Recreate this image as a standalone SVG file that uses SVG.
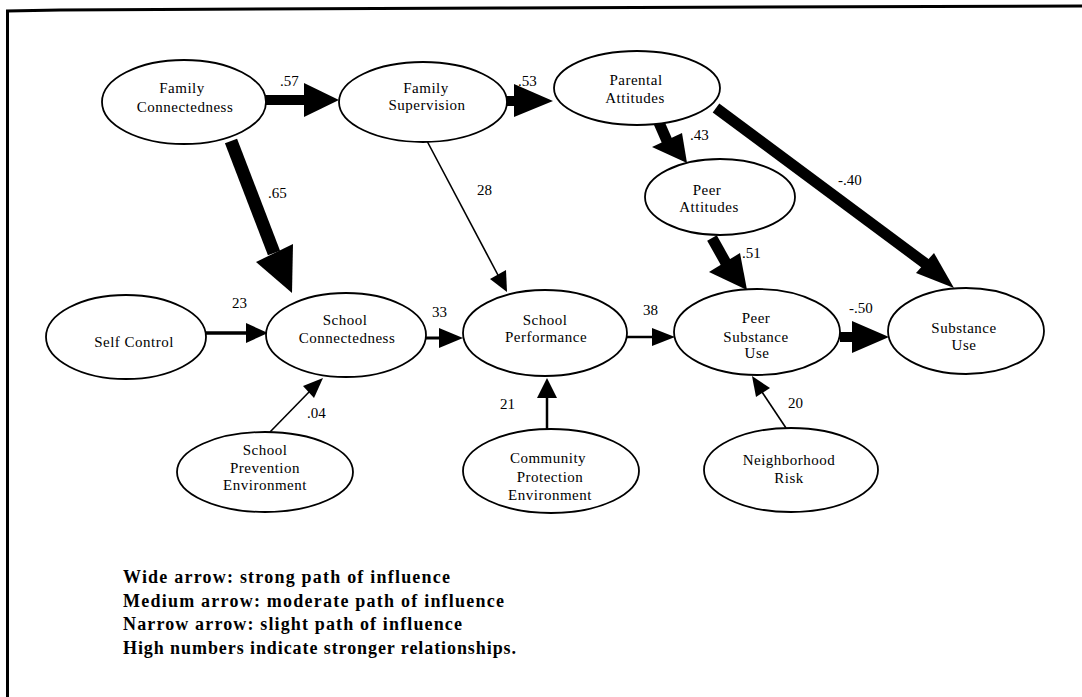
<svg xmlns="http://www.w3.org/2000/svg" width="1082" height="697" viewBox="0 0 1082 697">
<style>
.node ellipse{fill:#fff;stroke:#000;stroke-width:1.8}
.node text{font-family:"Liberation Serif","Times New Roman",serif;font-size:15px;letter-spacing:0.5px;text-anchor:middle;fill:#000}
.lbl{font-family:"Liberation Serif","Times New Roman",serif;font-size:15px;fill:#000}
.shaft{stroke:#000;fill:none}
.head{fill:#000;stroke:none}
.legend{font-family:"Liberation Serif","Times New Roman",serif;font-size:18px;font-weight:bold;fill:#000}
</style>
<rect width="1082" height="697" fill="#fff"/>
<polyline points="7.5,697 7.5,11 60,10 500,8 1082,6" fill="none" stroke="#000" stroke-width="3"/>

<g id="connectors">
  <!-- FC -> FS .57 -->
  <line class="shaft" x1="266" y1="100" x2="306" y2="100" stroke-width="10"/>
  <polygon class="head" points="304,83 339,100 304,117"/>
  <!-- FS -> PA .53 -->
  <line class="shaft" x1="506" y1="101" x2="516" y2="101" stroke-width="10"/>
  <polygon class="head" points="514,84 553,101 514,117"/>
  <!-- FC -> SC .65 -->
  <line class="shaft" x1="231" y1="141" x2="274" y2="253" stroke-width="13"/>
  <polygon class="head" points="256,262 293,244 292,293"/>
  <!-- FS -> SP 28 -->
  <line class="shaft" x1="427" y1="141" x2="499" y2="277" stroke-width="1.6"/>
  <polygon class="head" points="490,279 506,270 507,292"/>
  <!-- PA -> PeerA .43 -->
  <line class="shaft" x1="657" y1="118" x2="667" y2="141" stroke-width="11"/>
  <polygon class="head" points="652,147 682,133 687,163"/>
  <!-- PA -> SU -.40 -->
  <line class="shaft" x1="716" y1="108" x2="926" y2="264" stroke-width="11"/>
  <polygon class="head" points="916,273 934,253 954,288"/>
  <!-- PeerA -> PSU .51 -->
  <line class="shaft" x1="712" y1="238" x2="726" y2="263" stroke-width="11"/>
  <polygon class="head" points="709,272 740,253 747,290"/>
  <!-- SelfControl -> SC 23 -->
  <line class="shaft" x1="205" y1="333" x2="248" y2="333" stroke-width="3.5"/>
  <polygon class="head" points="246,323 268,333 246,343"/>
  <!-- SC -> SP 33 -->
  <line class="shaft" x1="426" y1="338" x2="441" y2="338" stroke-width="3"/>
  <polygon class="head" points="439,328 463,338 439,348"/>
  <!-- SP -> PSU 38 -->
  <line class="shaft" x1="626" y1="337" x2="654" y2="337" stroke-width="2.5"/>
  <polygon class="head" points="652,328 675,337 652,346"/>
  <!-- PSU -> SU -.50 -->
  <line class="shaft" x1="840" y1="337" x2="854" y2="337" stroke-width="10"/>
  <polygon class="head" points="852,321 889,337 852,353"/>
  <!-- SPE -> SC .04 -->
  <line class="shaft" x1="270" y1="432" x2="310" y2="391" stroke-width="1.6"/>
  <polygon class="head" points="303,386 323,378 314,398"/>
  <!-- CPE -> SP 21 -->
  <line class="shaft" x1="547" y1="431" x2="547" y2="396" stroke-width="2.5"/>
  <polygon class="head" points="537,398 547,378 557,398"/>
  <!-- NR -> PSU 20 -->
  <line class="shaft" x1="786" y1="428" x2="762" y2="392" stroke-width="1.6"/>
  <polygon class="head" points="770,388 752,376 756,397"/>
</g>

<g id="edge-labels">
  <text class="lbl" x="280" y="86">.57</text>
  <text class="lbl" x="518" y="86">.53</text>
  <text class="lbl" x="268" y="198">.65</text>
  <text class="lbl" x="477" y="195">28</text>
  <text class="lbl" x="690" y="140">.43</text>
  <text class="lbl" x="838" y="185">-.40</text>
  <text class="lbl" x="742" y="258">.51</text>
  <text class="lbl" x="232" y="308">23</text>
  <text class="lbl" x="432" y="317">33</text>
  <text class="lbl" x="643" y="315">38</text>
  <text class="lbl" x="849" y="313">-.50</text>
  <text class="lbl" x="307" y="418">.04</text>
  <text class="lbl" x="500" y="409">21</text>
  <text class="lbl" x="788" y="408">20</text>
</g>

<g id="family-connectedness" class="node">
  <ellipse cx="184" cy="102" rx="82" ry="42"/>
  <text x="182" y="93">Family</text>
  <text x="185" y="112">Connectedness</text>
</g>
<g id="family-supervision" class="node">
  <ellipse cx="423" cy="102" rx="84" ry="40"/>
  <text x="426" y="93">Family</text>
  <text x="427" y="110">Supervision</text>
</g>
<g id="parental-attitudes" class="node">
  <ellipse cx="637" cy="88" rx="83" ry="37"/>
  <text x="636" y="85">Parental</text>
  <text x="635" y="103">Attitudes</text>
</g>
<g id="peer-attitudes" class="node">
  <ellipse cx="720" cy="197" rx="75" ry="38"/>
  <text x="707" y="195">Peer</text>
  <text x="709" y="212">Attitudes</text>
</g>
<g id="self-control" class="node">
  <ellipse cx="126" cy="337" rx="80" ry="42"/>
  <text x="134" y="347">Self Control</text>
</g>
<g id="school-connectedness" class="node">
  <ellipse cx="346" cy="335" rx="80" ry="42"/>
  <text x="345" y="325">School</text>
  <text x="347" y="343">Connectedness</text>
</g>
<g id="school-performance" class="node">
  <ellipse cx="545" cy="333" rx="82" ry="43"/>
  <text x="545" y="325">School</text>
  <text x="546" y="342">Performance</text>
</g>
<g id="peer-substance-use" class="node">
  <ellipse cx="757" cy="332" rx="83" ry="43"/>
  <text x="756" y="323">Peer</text>
  <text x="756" y="342">Substance</text>
  <text x="757" y="358">Use</text>
</g>
<g id="substance-use" class="node">
  <ellipse cx="966" cy="331" rx="78" ry="43"/>
  <text x="964" y="333">Substance</text>
  <text x="964" y="350">Use</text>
</g>
<g id="school-prevention-environment" class="node">
  <ellipse cx="265" cy="472" rx="88" ry="40"/>
  <text x="265" y="455">School</text>
  <text x="265" y="473">Prevention</text>
  <text x="265" y="490">Environment</text>
</g>
<g id="community-protection-environment" class="node">
  <ellipse cx="551" cy="471" rx="88" ry="42"/>
  <text x="548" y="463">Community</text>
  <text x="550" y="482">Protection</text>
  <text x="550" y="500">Environment</text>
</g>
<g id="neighborhood-risk" class="node">
  <ellipse cx="791" cy="470" rx="87" ry="42"/>
  <text x="789" y="465">Neighborhood</text>
  <text x="789" y="483">Risk</text>
</g>

<g id="legend">
  <text class="legend" x="123" y="583" textLength="327" lengthAdjust="spacing">Wide arrow: strong path of influence</text>
  <text class="legend" x="123" y="607" textLength="381" lengthAdjust="spacing">Medium arrow: moderate path of influence</text>
  <text class="legend" x="123" y="630" textLength="339" lengthAdjust="spacing">Narrow arrow: slight path of influence</text>
  <text class="legend" x="123" y="654" textLength="393" lengthAdjust="spacing">High numbers indicate stronger relationships.</text>
</g>
</svg>
